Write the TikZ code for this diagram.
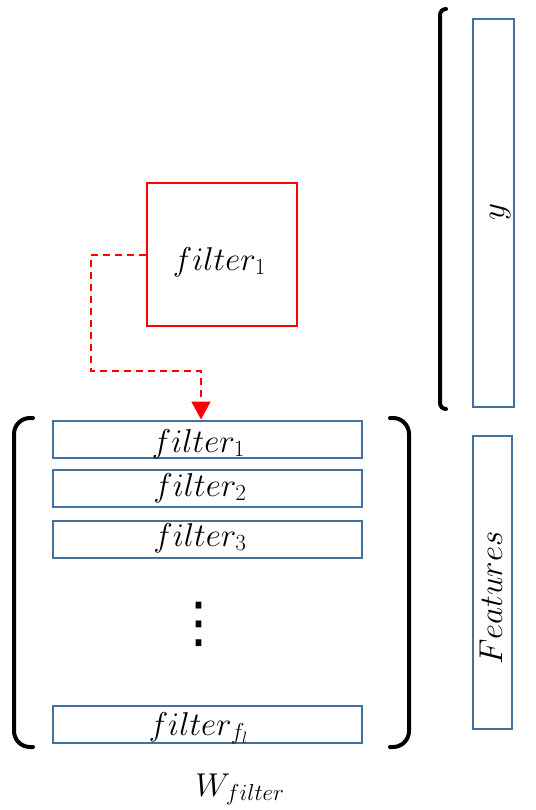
\RequirePackage{fix-cm}
\documentclass[tikz,border=0pt]{standalone}
\usepackage{fontspec}
\newfontfamily\symfont{DejaVu Sans}
\usetikzlibrary{arrows.meta}
\definecolor{barblue}{RGB}{65,113,156}
\definecolor{boxred}{RGB}{255,0,0}
\begin{document}
\begin{tikzpicture}[x=1pt,y=-1pt,
  lbl/.style={font=\fontsize{33}{38}\selectfont, inner sep=0pt, anchor=base},
  rowbox/.style={draw=barblue, line width=2pt, minimum width=309pt, minimum height=37pt, inner sep=0pt},
  colbox/.style={draw=barblue, line width=2pt, inner sep=0pt},
  kernelbox/.style={draw=boxred, line width=2pt, minimum width=150pt, minimum height=143pt, inner sep=0pt},
  conn/.style={draw=boxred, line width=2pt, dash pattern=on 7pt off 5pt, -{Triangle[width=19pt,length=18pt]}},
  paren/.style={line width=4pt, line cap=round}]
\useasboundingbox (0,0) rectangle (535,810);

% single filter
\node[kernelbox] (sq) at (222,254.5) {};
\node[lbl] (sqt) at (219.5,270) {$filter_1$};

% stacked filter rows
\node[rowbox] (b1) at (207.5,439) {};
\node[rowbox] (b2) at (207.5,488) {};
\node[rowbox] (b3) at (207.5,539.5) {};
\node[rowbox] (bl) at (207.5,724.5) {};
\node[lbl] (t1) at (198.5,452) {$filter_1$};
\node[lbl] (t2) at (200,496) {$filter_2$};
\node[lbl] (t3) at (200,546) {$filter_3$};
\node[lbl] (tl) at (198.5,735) {$filter_{f_l}$};

% vertical ellipsis
\node[inner sep=0pt, anchor=center, font=\symfont\fontsize{55}{55}\selectfont] (dots) at (198.5,624) {⋮};

\node[lbl] (w) at (240,796) {$W_{filter}$};

% matrix brackets
\draw[paren, rounded corners=16pt] (33,418) -- (14,418) -- (14,747) -- (33,747);
\draw[paren, rounded corners=16pt] (390,418) -- (409,418) -- (409,747) -- (390,747);

% right column
\node[colbox, minimum width=41pt, minimum height=388pt] (ycol) at (493.5,213) {};
\node[lbl, rotate=90] (yt) at (504,212) {$y$};
\node[colbox, minimum width=39pt, minimum height=293pt] (fcol) at (492.5,582.5) {};
\node[lbl, rotate=90] (ft) at (502,598) {$Features$};
\draw[paren, rounded corners=6pt] (446,9) -- (440,9) -- (440,409) -- (446,409);

% connector
\coordinate (k1) at (91,371);
\draw[conn] (sq.west) -| (k1) -| ([xshift=-6.5pt]b1.north);
\end{tikzpicture}
\end{document}
